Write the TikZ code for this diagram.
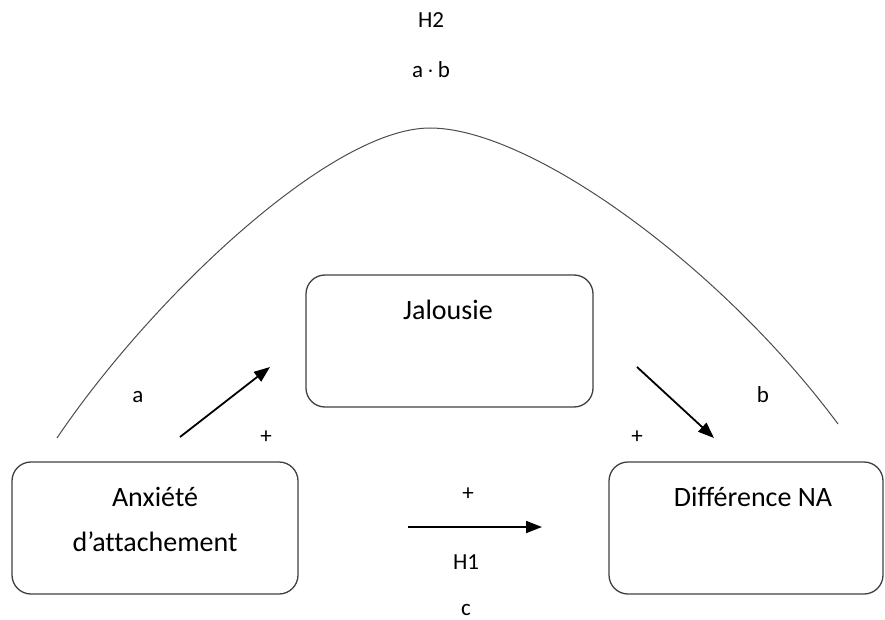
\documentclass[tikz,border=0pt]{standalone}
\usepackage{fontspec}
\setmainfont{Carlito}[Ligatures={NoCommon}]
\usetikzlibrary{arrows.meta}
\begin{document}
\begin{tikzpicture}[x=1pt,y=-1pt,
  box/.style={draw=black!75, line width=1.3pt, rounded corners=19pt, inner sep=0pt},
  big/.style={font=\fontsize{28}{34}\selectfont, inner sep=0pt, anchor=base},
  small/.style={font=\fontsize{23}{28}\selectfont, inner sep=0pt, anchor=base},
  arr/.style={line width=1.8pt, -{Triangle[length=16pt,width=12pt]}},
  curve/.style={draw=black!70, line width=1pt}]
\useasboundingbox (0,0) rectangle (885,620);
% boxes
\node[box, minimum width=286pt, minimum height=132pt] (anx) at (155,528) {};
\node[box, minimum width=274pt, minimum height=132pt] (dna) at (746,528) {};
\node[box, minimum width=287pt, minimum height=132pt] (jal) at (449.5,341) {};
% box texts
\node[big] (t1) at (155,506) {Anxiété};
\node[big] (t2) at (155,551) {d’attachement};
\node[big] (t3) at (753,506) {Différence NA};
\node[big] (t4) at (448,319) {Jalousie};
% labels
\node[small] (h2) at (431,28) {H2};
\node[small] (ab) at (431,78) {a\,$\cdot$\,b};
\node[small] (la) at (138,402) {a};
\node[small] (lb) at (763,402) {b};
\node[small] (p1) at (266,443) {+};
\node[small] (p2) at (637,443) {+};
\node[small] (p3) at (468,500) {+};
\node[small] (h1) at (466,569) {H1};
\node[small] (lc) at (466,615) {c};
% arrows
\coordinate (a1s) at (180,437);
\coordinate (a1e) at (270,367);
\coordinate (a2s) at (637,367);
\coordinate (a2e) at (714,438);
\coordinate (a3s) at (408,527);
\coordinate (a3e) at (542,527);
\draw[arr] (a1s) -- (a1e);
\draw[arr] (a2s) -- (a2e);
\draw[arr] (a3s) -- (a3e);
% curve H2
\coordinate (cs) at (57,438);
\coordinate (cp) at (430,128);
\coordinate (ce) at (838,424);
\draw[curve] (cs) .. controls (150,300) and (330,128) .. (cp)
                  .. controls (530,128) and (720,265) .. (ce);
\end{tikzpicture}
\end{document}
